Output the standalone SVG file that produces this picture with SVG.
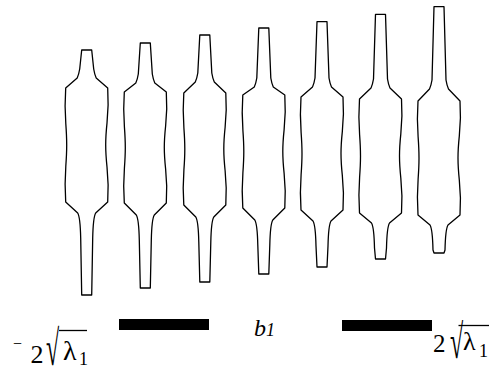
<svg xmlns="http://www.w3.org/2000/svg" width="489" height="368" viewBox="0 0 489 368">
<style>
.shape{fill:none;stroke:#000;stroke-width:1.3;stroke-linejoin:round}
.bar{fill:#000}
.lbl{font-family:"Liberation Serif",serif;fill:#000}
.rad{stroke:#000;stroke-width:1.3;fill:none}
</style>
<rect width="489" height="368" fill="#fff"/>
<g id="shape1" transform="translate(86.7,0)"><path class="shape" d="M-5,50 L5,50 L7,69 Q8,75 9.5,78 L21,88 C23,116.5 19,122.2 19,145 C19,167.8 23,173.5 21,202 L9,213 Q6.5,217 6,238 L5,295 L-5,295 L-6,238 Q-6.5,217 -9,213 L-21,202 C-23,173.5 -20,167.8 -20,145 C-20,122.2 -23,116.5 -21,88 L-9.5,78 Q-8,75 -7,69 Z"/></g>
<g id="shape2" transform="translate(145.3,0)"><path class="shape" d="M-5,43 L5,43 L7,74 Q8,80 9.5,83 L21,92 C23,119.75 19,125.3 19,147.5 C19,169.7 23,175.25 21,203 L9,215 Q6.5,219 6,240 L5,288 L-5,288 L-6,240 Q-6.5,219 -9,215 L-21,203 C-23,175.25 -20,169.7 -20,147.5 C-20,125.3 -23,119.75 -21,92 L-9.5,83 Q-8,80 -7,74 Z"/></g>
<g id="shape3" transform="translate(204.8,0)"><path class="shape" d="M-5,35 L5,35 L7,73 Q8,79 9.5,82 L21,93 C23,121 19,126.6 19,149 C19,171.4 23,177 21,205 L9,217 Q6.5,221 6,242 L5,282 L-5,282 L-6,242 Q-6.5,221 -9,217 L-21,205 C-23,177 -20,171.4 -20,149 C-20,126.6 -23,121 -21,93 L-9.5,82 Q-8,79 -7,73 Z"/></g>
<g id="shape4" transform="translate(263.8,0)"><path class="shape" d="M-5,28 L5,28 L7,78 Q8,84 9.5,87 L21,95 C23,123.25 19,128.9 19,151.5 C19,174.1 23,179.75 21,208 L9,220 Q6.5,224 6,245 L5,274 L-5,274 L-6,245 Q-6.5,224 -9,220 L-21,208 C-23,179.75 -20,174.1 -20,151.5 C-20,128.9 -23,123.25 -21,95 L-9.5,87 Q-8,84 -7,78 Z"/></g>
<g id="shape5" transform="translate(322,0)"><path class="shape" d="M-5,21.7 L5,21.7 L7,78 Q8,84 9.5,87 L21,97 C23,125.25 19,130.9 19,153.5 C19,176.1 23,181.75 21,210 L9,221 Q6.5,225 6,246 L5,267 L-5,267 L-6,246 Q-6.5,225 -9,221 L-21,210 C-23,181.75 -20,176.1 -20,153.5 C-20,130.9 -23,125.25 -21,97 L-9.5,87 Q-8,84 -7,78 Z"/></g>
<g id="shape6" transform="translate(380.5,0)"><path class="shape" d="M-5,14.3 L5,14.3 L7,79 Q8,85 9.5,88 L21,99 C23,127.5 19,133.2 19,156 C19,178.8 23,184.5 21,213 L9,223 Q6.5,227 6,248 L5,259 L-5,259 L-6,248 Q-6.5,227 -9,223 L-21,213 C-23,184.5 -20,178.8 -20,156 C-20,133.2 -23,127.5 -21,99 L-9.5,88 Q-8,85 -7,79 Z"/></g>
<g id="shape7" transform="translate(439,0)"><path class="shape" d="M-5,6.7 L5,6.7 L7,80 Q8,86 9.5,89 L21,101 C23,129.5 19,135.2 19,158 C19,180.8 23,186.5 21,215 L9,225 Q6.5,229 6,250 L5,253 L-5,253 L-6,250 Q-6.5,229 -9,225 L-21,215 C-23,186.5 -20,180.8 -20,158 C-20,135.2 -23,129.5 -21,101 L-9.5,89 Q-8,86 -7,80 Z"/></g>
<g id="connectors"/>
<g id="bar-left"><rect class="bar" x="119" y="319" width="90" height="11"/></g>
<g id="bar-right"><rect class="bar" x="342" y="320" width="90" height="11"/></g>
<g id="label-left">
<text class="lbl" font-size="16" x="13" y="348.5">−</text>
<text class="lbl" font-size="26" x="30.5" y="363">2</text>
<text class="lbl" font-size="24" transform="translate(46,365) scale(1,2.05)">√</text>
<line class="rad" x1="59" y1="330.5" x2="87" y2="330.5"/>
<text class="lbl" font-size="28" x="63" y="360">λ</text>
<text class="lbl" font-size="18" x="79" y="365">1</text>
</g>
<g id="label-mid"><text class="lbl" font-size="24" x="254" y="336" font-style="italic">b<tspan font-size="18">1</tspan></text></g>
<g id="label-right">
<text class="lbl" font-size="25" x="433" y="352">2</text>
<text class="lbl" font-size="24" transform="translate(450,358) scale(1,2)">√</text>
<line class="rad" x1="458.5" y1="325.5" x2="489" y2="325.5"/>
<text class="lbl" font-size="26" x="463" y="350">λ</text>
<text class="lbl" font-size="18" x="479" y="357">1</text>
</g>
</svg>
